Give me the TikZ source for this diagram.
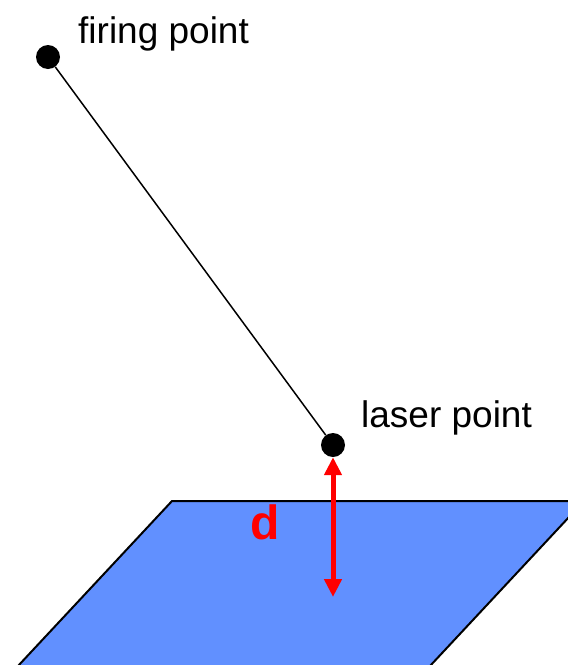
\documentclass[tikz,border=0pt]{standalone}
\usepackage{fontspec}
\setmainfont{Liberation Sans}
\usetikzlibrary{calc, positioning, arrows.meta}
\definecolor{planeblue}{RGB}{97,144,255}

\begin{document}
\begin{tikzpicture}[
        x=1pt, y=-1pt,
        dot/.style={
            circle, fill=black, draw=none,
            minimum size=24pt, inner sep=0pt
        },
        lbl/.style={font=\fontsize{37}{40}\selectfont, inner sep=0pt, anchor=base west},
        dist/.style={draw=red, line width=5pt, {Triangle[length=18pt, width=17pt]}-{Triangle[length=18pt, width=17pt]}},
        plane/.style={fill=planeblue, draw=black, line width=2pt}
    ]

    \useasboundingbox (0,0) rectangle (568,665);
    \clip (0,0) rectangle (568,665);

    % ground plane
    \draw [plane] (172,501) -- (584,501) -- (430,666) -- (18,666) -- cycle;

    \node [dot] (firing) at (48,57) {};
    \node [dot] (laser) at (333,445) {};

    \node [lbl] (firinglbl) at ($(firing)+(30,-14)$) {firing point};
    \node [lbl] (laserlbl) at ($(laser)+(28,-18)$) {laser point};

    \draw [line width=1.5pt] (firing) -- (laser);

    \coordinate (dend) at (333,597);
    \draw [dist] (laser.south) -- (dend);
    \node [font=\fontsize{48}{52}\selectfont\bfseries, text=red, inner sep=0pt] (dlbl) at (265,522) {d};

\end{tikzpicture}
\end{document}
